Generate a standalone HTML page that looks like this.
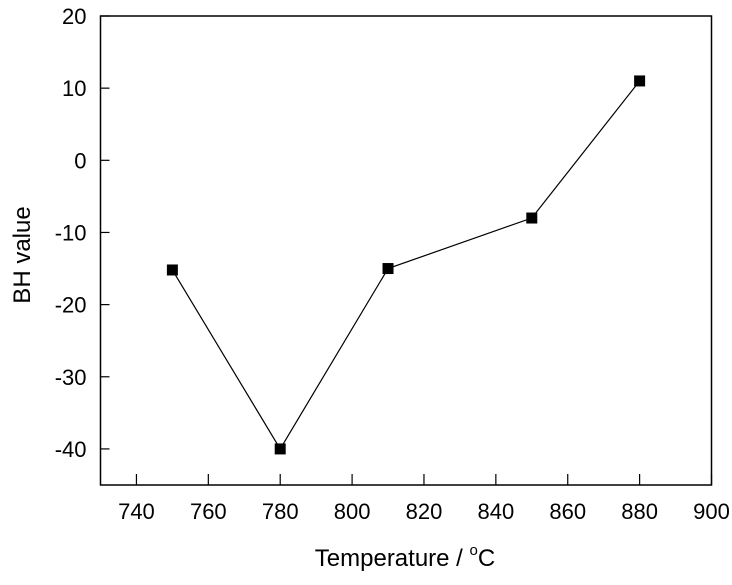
<!DOCTYPE html>
<html><head><meta charset="utf-8"><style>
body{margin:0;background:#fff}
text{font-family:"Liberation Sans",Arial,sans-serif;fill:#000}
</style></head><body>
<svg id="chart" width="732" height="580" xmlns="http://www.w3.org/2000/svg"></svg>
<script>
const temps=[750,780,810,850,880];
const bhValues=[-15.2,-40,-15,-8,11];
const xTicks=[740,760,780,800,820,840,860,880,900];
const yTicks=[20,10,0,-10,-20,-30,-40];
const L=100.5,R=711.5,T=16,B=485;
const xs=v=>L+(v-730)/(900-730)*(R-L);
const ys=v=>T+(20-v)/(20+45)*(B-T);
const svg=document.getElementById('chart');
const NS='http://www.w3.org/2000/svg';
function mk(tag,attrs,txt){const e=document.createElementNS(NS,tag);for(const k in attrs)e.setAttribute(k,attrs[k]);if(txt!==undefined)e.textContent=txt;svg.appendChild(e);return e;}
let e=mk('rect',{x:L,y:T,width:R-L,height:B-T,fill:'none',stroke:'#000','stroke-width':1.5});


xTicks.forEach(t=>{
 let l=mk('line',{x1:xs(t),x2:xs(t),y1:B,y2:B-11,stroke:'#000','stroke-width':1.2});
 
 
 let tx=mk('text',{x:xs(t),y:B+34,'font-size':22,'text-anchor':'middle'},t);
 
 
});
yTicks.forEach(t=>{
 let l=mk('line',{x1:L,x2:L+9,y1:ys(t),y2:ys(t),stroke:'#000','stroke-width':1.2});
 
 
 let tx=mk('text',{x:L-14,y:ys(t)+8,'font-size':22,'text-anchor':'end'},t);
 
 
});
let pts=temps.map((t,i)=>xs(t)+','+ys(bhValues[i])).join(' ');
e=mk('polyline',{points:pts,fill:'none',stroke:'#000','stroke-width':1.2});


temps.forEach((t,i)=>{
 let r=mk('rect',{x:xs(t)-5.5,y:ys(bhValues[i])-5.5,width:11,height:11,fill:'#000'});
 
 
});
e=mk('text',{x:405,y:566,'font-size':24,'text-anchor':'middle'});
e.innerHTML='Temperature / <tspan dy="-11" font-size="15">o</tspan><tspan dy="11">C</tspan>';


e=mk('text',{x:30,y:255,'font-size':24,'text-anchor':'middle',transform:'rotate(-90 30 255)'},'BH value');


</script>
</body></html>
